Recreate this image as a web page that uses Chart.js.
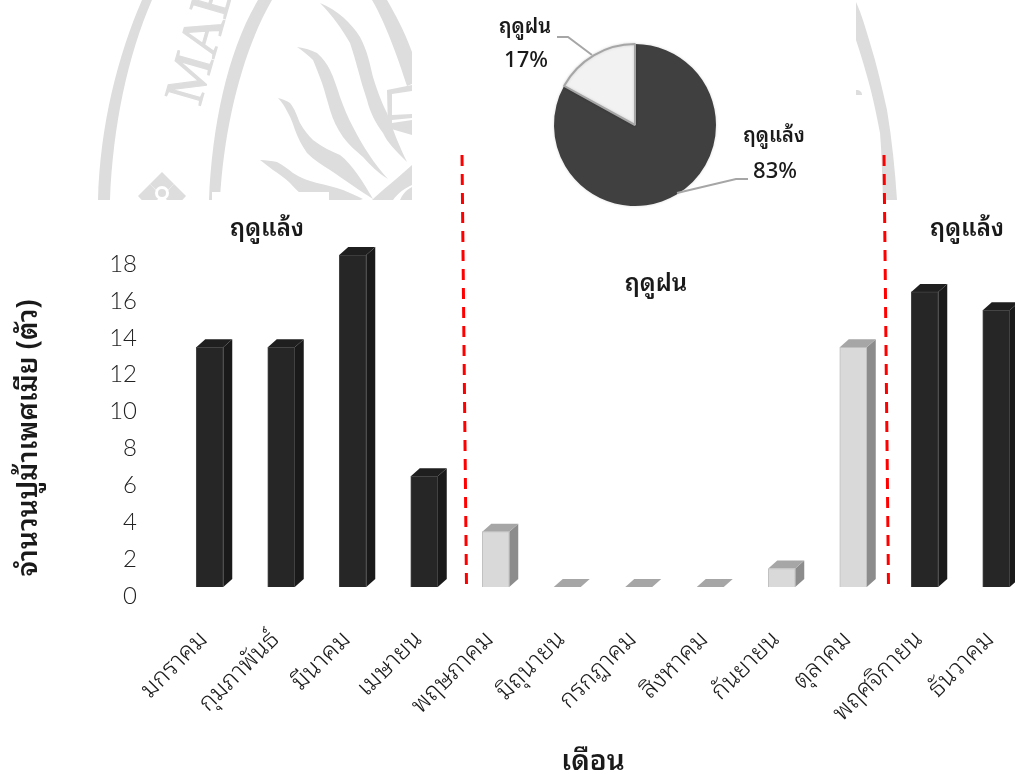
<!DOCTYPE html>
<html>
<head>
<meta charset="utf-8">
<script src="https://cdn.jsdelivr.net/npm/chart.js@4"></script>
<style>
  html, body { margin: 0; padding: 0; background: #fff; overflow: hidden; }
  #wrap { position: relative; width: 1015px; height: 774px; overflow: hidden; }
  #seal, #barChart, #pieChart { position: absolute; }
  #seal { left: 0; top: 0; }
  #barChart { left: 0; top: 0; }
  #pieChart { left: 460px; top: 0; }
</style>
</head>
<body>
<div id="wrap">
  <svg id="seal" width="1015" height="774" viewBox="0 0 1015 774">
    <defs>
      <clipPath id="sealLeft">
        <path d="M98 0H412V200H329V192H212V200H98Z"/>
      </clipPath>
      <clipPath id="sealRight"><rect x="856" y="0" width="60" height="200"/></clipPath>
    </defs>
    <g clip-path="url(#sealLeft)" fill="#dedddd">
      <!-- outer rings -->
      <path d="M142 0C118 55 100 125 98 200H110C113 125 128 55 152 0Z"/>
      <path d="M258 0C228 50 212 125 209 200H220C224 125 243 50 272 0Z"/>
      <path d="M372 0C385 22 398 58 407 86L412 84V52C404 30 395 14 387 0Z"/>
      <!-- flames -->
      <path d="M320 3C338 10 352 24 360 37C368 52 370 65 373 77C378 93 382 103 387 113C393 130 400 148 407 162C395 150 387 142 383 133C375 122 370 112 367 100C364 90 362 85 360 77C356 62 353 52 350 43C346 36 342 30 337 23C331 15 326 9 320 3Z"/>
      <path d="M297 47C305 48 311 50 317 53C323 58 327 64 330 70C334 78 337 88 340 97C344 108 348 118 353 127C362 145 375 165 388 179C378 173 370 165 363 157C355 150 349 145 343 137C337 128 333 120 330 110C327 100 325 92 322 83C319 75 316 67 313 60C308 55 303 51 297 47Z"/>
      <path d="M278 98C283 99 287 101 290 103C295 109 297 116 300 123C304 130 308 135 313 140C322 147 331 151 340 155C352 164 364 183 373 199C360 191 345 180 330 170C322 165 314 160 307 153C302 146 298 138 295 130C293 124 291 118 288 113C285 107 282 102 278 98Z"/>
      <path d="M260 160C266 160 272 161 277 162C283 165 288 169 293 173C301 178 309 181 317 183C326 185 335 187 343 190C350 193 357 196 363 199L360 200H320C313 197 306 195 300 193C296 190 293 186 290 183C285 178 279 174 273 170C268 166 264 163 260 160Z"/>
      <!-- book and base -->
      <path d="M387 90L412 85V135L388 128Z"/>
      <path d="M392 94L412 91V114L392 115Z" fill="#fff"/>
      <path d="M392 120L412 118V120L392 123Z" fill="#fff"/>
      <path d="M412 165C398 178 382 190 372 200H393C398 193 405 188 412 185Z"/>
      <path d="M412 187C406 190 402 195 400 200H412Z"/>
      <!-- flower -->
      <path d="M162 172L174 184L162 196L150 184Z"/>
      <path d="M174 184L186 196L175 208L163 196Z"/>
      <path d="M150 184L161 196L149 208L138 196Z"/>
      <circle cx="162" cy="193" r="7" fill="#fff"/>
      <circle cx="162" cy="193" r="4"/>
      <text transform="translate(200 107) rotate(-74)" font-family="'Liberation Serif', serif" font-size="56" stroke="#dedddd" stroke-width="1.2">MAE</text>
    </g>
    <g clip-path="url(#sealRight)" fill="#dedddd">
      <path d="M856 2C862 15 866 30 870 43C877 65 882 88 887 110C892 140 895 170 897 200H883C882 178 882 155 880 133C877 118 874 102 870 87C866 72 861 55 856 40Z"/>
      <path d="M856 90C860 90 862 92 862 95H856Z"/>
    </g>
  </svg>
  <canvas id="barChart" width="1040" height="774"></canvas>
  <canvas id="pieChart" width="350" height="250"></canvas>
</div>
<script>
const months = ['มกราคม', 'กุมภาพันธ์', 'มีนาคม', 'เมษายน', 'พฤษภาคม', 'มิถุนายน', 'กรกฎาคม', 'สิงหาคม', 'กันยายน', 'ตุลาคม', 'พฤศจิกายน', 'ธันวาคม'];
const femaleCrabs = [13, 13, 18, 6, 3, 0, 0, 0, 1, 13, 16, 15];
const monthSeason = ['dry', 'dry', 'dry', 'dry', 'wet', 'wet', 'wet', 'wet', 'wet', 'wet', 'dry', 'dry'];
const seasonNames = ['ฤดูแล้ง', 'ฤดูฝน'];
const seasonShare = [83, 17];

const thaiFont = "'Noto Sans Thai Looped', Loma, Garuda, 'Noto Sans Thai', 'Noto Sans', 'DejaVu Sans', sans-serif";
const faces = {
    dry: { front: '#262626', side: '#1a1a1a', top: '#1f1f1f', edge: '#454545' },
    wet: { front: '#d9d9d9', side: '#8c8c8c', top: '#a6a6a6', edge: '#bfbfbf' }
};
const depthX = 9;
const depthY = 8;

function polygon(ctx, points, fill) {
    ctx.beginPath();
    points.forEach((p, i) => i ? ctx.lineTo(p[0], p[1]) : ctx.moveTo(p[0], p[1]));
    ctx.closePath();
    ctx.fillStyle = fill;
    ctx.fill();
}

function label(ctx, text, x, y, size, weight, angle) {
    ctx.save();
    ctx.translate(x, y);
    if (angle) ctx.rotate(angle);
    ctx.font = `${weight} ${size}px ${thaiFont}`;
    ctx.fillStyle = '#1a1a1a';
    ctx.textAlign = 'center';
    ctx.textBaseline = 'middle';
    ctx.fillText(text, 0, 0);
    ctx.restore();
}

// top and side of each column, painted before the front face
const barDepth = {
    id: 'barDepth',
    beforeDatasetsDraw(chart) {
        const ctx = chart.ctx;
        chart.getDatasetMeta(0).data.forEach((bar, i) => {
            const f = faces[monthSeason[i]];
            const l = bar.x - bar.width / 2;
            const r = bar.x + bar.width / 2;
            polygon(ctx, [[r, bar.y], [r + depthX, bar.y - depthY], [r + depthX, bar.base - depthY], [r, bar.base]], f.side);
            polygon(ctx, [[l, bar.y], [l + depthX, bar.y - depthY], [r + depthX, bar.y - depthY], [r, bar.y]], f.top);
        });
    }
};

// season dividers and captions around the columns
const seasonMarks = {
    id: 'seasonMarks',
    afterDatasetsDraw(chart) {
        const ctx = chart.ctx;
        const x = chart.scales.x;
        const y = chart.scales.y;
        ctx.save();
        ctx.strokeStyle = '#ff0000';
        ctx.lineWidth = 3;
        ctx.setLineDash([11, 8]);
        [[3.5, 2], [9.5, -5]].forEach(([pos, shift]) => {
            const px = x.getPixelForValue(pos) + shift;
            ctx.beginPath();
            ctx.moveTo(px, 155);
            ctx.lineTo(px + 4.5, y.getPixelForValue(0));
            ctx.stroke();
        });
        ctx.restore();
        label(ctx, seasonNames[0], 267, 229, 24, 600);
        label(ctx, seasonNames[1], 656, 284, 24, 600);
        label(ctx, seasonNames[0], 967, 229, 24, 600);
        label(ctx, 'จำนวนปูม้าเพศเมีย (ตัว)', 29, 438, 28, 600, -Math.PI / 2);
        label(ctx, 'เดือน', 593, 762, 28, 600);
    }
};

new Chart(document.getElementById('barChart'), {
    type: 'bar',
    data: {
        labels: months,
        datasets: [{
            data: femaleCrabs,
            barThickness: 27,
            backgroundColor: monthSeason.map(s => faces[s].front),
            borderColor: monthSeason.map(s => faces[s].edge),
            borderWidth: 1
        }]
    },
    options: {
        responsive: false,
        animation: false,
        devicePixelRatio: 1,
        layout: { padding: { top: 255, left: 0, right: 8 } },
        plugins: { legend: { display: false }, tooltip: { enabled: false } },
        scales: {
            x: {
                grid: { display: false },
                border: { display: false },
                afterFit(scale) {
                    scale.height = 187;
                    // rotated labels must not shrink the plot width
                    scale.paddingLeft = 0;
                    scale.paddingRight = 0;
                },
                ticks: {
                    autoSkip: false,
                    minRotation: 45,
                    maxRotation: 45,
                    padding: 30,
                    labelOffset: -6,
                    color: '#1a1a1a',
                    font: { family: thaiFont, size: 25, weight: 300 }
                }
            },
            y: {
                min: 0,
                max: 18,
                afterFit(scale) { scale.width = 174; },
                grid: { display: false },
                border: { display: false },
                ticks: {
                    stepSize: 2,
                    padding: 29,
                    labelOffset: 9,
                    color: '#222222',
                    font: { family: "Lato, 'Noto Sans', sans-serif", size: 24, weight: 300 }
                }
            }
        }
    },
    plugins: [barDepth, seasonMarks]
});

// leader lines and labels for the two seasons
const pieLabels = {
    id: 'pieLabels',
    beforeDatasetsDraw(chart) {
        chart.ctx.save();
        chart.ctx.shadowColor = 'rgba(0,0,0,0.15)';
        chart.ctx.shadowBlur = 3;
    },
    afterDatasetsDraw(chart) {
        const ctx = chart.ctx;
        ctx.restore();
        ctx.save();
        ctx.strokeStyle = '#a6a6a6';
        ctx.lineWidth = 2;
        ctx.beginPath();
        ctx.moveTo(217, 193);
        ctx.lineTo(276, 179);
        ctx.lineTo(288, 179);
        ctx.moveTo(132, 55);
        ctx.lineTo(108, 37);
        ctx.lineTo(97, 37);
        ctx.stroke();
        ctx.restore();
        label(ctx, seasonNames[0], 314, 136, 20, 600);
        label(ctx, seasonShare[0] + '%', 315, 172, 22, 500);
        label(ctx, seasonNames[1], 65, 27, 20, 600);
        label(ctx, seasonShare[1] + '%', 66, 61, 22, 500);
    }
};

new Chart(document.getElementById('pieChart'), {
    type: 'pie',
    data: {
        labels: seasonNames,
        datasets: [{
            data: seasonShare,
            backgroundColor: ['#404040', '#f2f2f2'],
            borderColor: ['#404040', '#a6a6a6'],
            borderWidth: [0, 2],
            radius: 81
        }]
    },
    options: {
        responsive: false,
        animation: false,
        devicePixelRatio: 1,
        plugins: { legend: { display: false }, tooltip: { enabled: false } }
    },
    plugins: [pieLabels]
});
</script>
</body>
</html>
